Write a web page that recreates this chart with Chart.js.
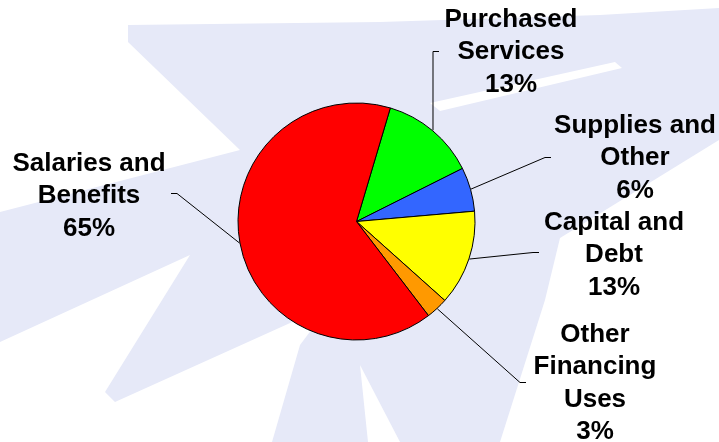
<!DOCTYPE html>
<html>
<head>
<meta charset="utf-8">
<script src="https://cdn.jsdelivr.net/npm/chart.js@4"></script>
<style>
  body { margin: 0; background: #fff; }
  #wrap { width: 719px; height: 442px; }
</style>
</head>
<body>
<div id="wrap"><canvas id="pieChart" width="719" height="442"></canvas></div>
<script>
// data, clockwise from the first slice
const categories = ['Purchased Services', 'Supplies and Other', 'Capital and Debt', 'Other Financing Uses', 'Salaries and Benefits'];
const shares = [13, 6, 13, 3, 65];
const sliceColors = ['#00ff00', '#3366ff', '#ffff00', '#ff9900', '#ff0000'];

// where each label sits: text centre x, first baseline y, elbow of the leader line, side of the stub
const labelSpots = [
    {tx: 511, ty: 27,  ex: 433, ey: 51,  side: 1},
    {tx: 635, ty: 133, ex: 545, ey: 157, side: 1},
    {tx: 614, ty: 230, ex: 533, ey: 252, side: 1},
    {tx: 595, ty: 342, ex: 520, ey: 382, side: 1},
    {tx: 89,  ty: 171, ex: 177, ey: 193, side: -1}
];

// light watermark behind the chart (rough shapes)
const bgWhite = [
    [[0,0],[719,0],[719,8],[600,15],[380,22],[128,25],[128,42],[240,150],[0,212]],
    [[0,342],[190,255],[105,392],[115,402],[330,305],[300,345],[272,442],[0,442]],
    [[719,140],[560,238],[545,300],[500,442],[719,442]],
    [[430,103],[615,62],[622,68],[440,111]],
    [[360,365],[400,442],[368,442]]
];

function wrapText(ctx, text, maxW){
    let words = text.split(' ');
    let lines = [];
    let cur = '';
    words.forEach(w => {
        let test = cur ? cur + ' ' + w : w;
        if (cur && ctx.measureText(test).width > maxW) {
            lines.push(cur);
            cur = w;
        } else {
            cur = test;
        }
    });
    if (cur) lines.push(cur);
    return lines;
}

const backdrop = {
    id: 'backdrop',
    beforeDraw(chart){
        let ctx = chart.ctx;
        ctx.save();
        ctx.fillStyle = '#e6e9f8';
        ctx.fillRect(0, 0, chart.width, chart.height);
        ctx.fillStyle = '#ffffff';
        bgWhite.forEach(poly => {
            ctx.beginPath();
            poly.forEach((p, i) => i ? ctx.lineTo(p[0], p[1]) : ctx.moveTo(p[0], p[1]));
            ctx.closePath();
            ctx.fill();
        });
        ctx.restore();
    }
};

const sliceLabels = {
    id: 'sliceLabels',
    afterDatasetsDraw(chart){
        let ctx = chart.ctx;
        let meta = chart.getDatasetMeta(0);
        let total = shares.reduce((a, b) => a + b, 0);
        ctx.save();
        ctx.font = 'bold 26px "Liberation Sans", Arial, sans-serif';
        ctx.textAlign = 'center';
        ctx.textBaseline = 'alphabetic';
        meta.data.forEach((arc, i) => {
            let spot = labelSpots[i];
            let mid = (arc.startAngle + arc.endAngle) / 2;
            let r = arc.outerRadius + 0.5;
            let sx = arc.x + Math.cos(mid) * r;
            let sy = arc.y + Math.sin(mid) * r;

            ctx.strokeStyle = '#000';
            ctx.lineWidth = 1;
            ctx.beginPath();
            ctx.moveTo(sx, sy);
            ctx.lineTo(spot.ex, spot.ey + 0.5);
            ctx.lineTo(spot.ex + spot.side * 6, spot.ey + 0.5);
            ctx.stroke();

            let lines = wrapText(ctx, categories[i], 168);
            lines.push(Math.round(shares[i] / total * 100) + '%');
            ctx.fillStyle = '#000';
            lines.forEach((ln, k) => ctx.fillText(ln, spot.tx, spot.ty + k * 32.3));
        });
        ctx.restore();
    }
};

new Chart(document.getElementById('pieChart'), {
    type: 'pie',
    data: {
        labels: categories,
        datasets: [{
            data: shares,
            backgroundColor: sliceColors,
            borderColor: '#000',
            borderWidth: 1
        }]
    },
    options: {
        responsive: false,
        animation: false,
        events: [],
        rotation: 16.6,
        layout: {padding: {left: 237.5, right: 243.5, top: 102.5, bottom: 101.5}},
        plugins: {legend: {display: false}, tooltip: {enabled: false}}
    },
    plugins: [backdrop, sliceLabels]
});
</script>
</body>
</html>
